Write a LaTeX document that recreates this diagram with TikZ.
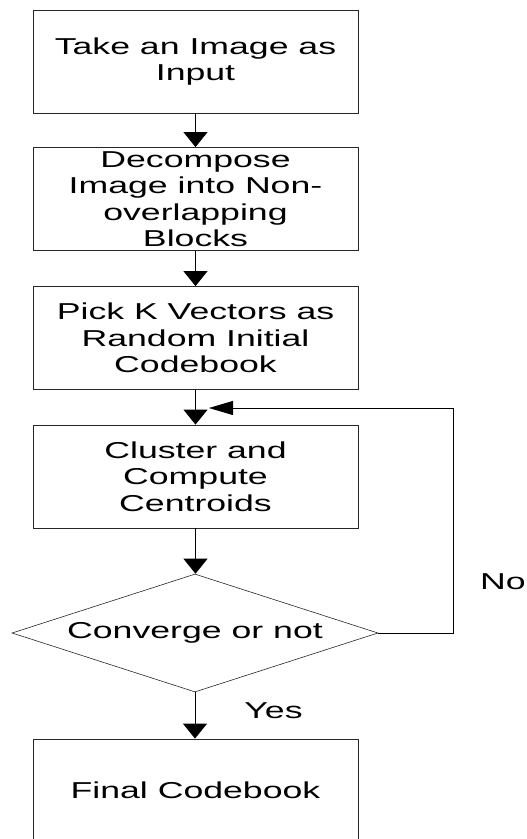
\documentclass[tikz,border=0pt]{standalone}
\usepackage{fontspec}
\setmainfont{Liberation Sans}[FakeStretch=1.55]
\usetikzlibrary{arrows.meta,shapes.geometric}
\begin{document}
\begin{tikzpicture}[x=1pt,y=-1pt,
  txt/.style={font=\fontsize{23}{26.5}\selectfont},
  box/.style={txt, draw=black!85, line width=0.8pt, minimum width=325pt, minimum height=103pt, inner sep=0pt, align=center},
  dec/.style={txt, draw=black!85, line width=0.6pt, shape=diamond, aspect=3.1, minimum width=366pt, minimum height=118pt, inner sep=0pt},
  lbl/.style={txt, inner sep=0pt},
  varr/.style={draw=black, line width=0.8pt, -{Triangle[width=24pt,length=15pt]}},
  harr/.style={draw=black, line width=0.8pt, -{Triangle[width=14pt,length=24pt]}}
]
\useasboundingbox (0,0) rectangle (527,839);
\node[box] (b1) at (195.5,61.5) {Take an Image as\\Input};
\node[box] (b2) at (195.5,199) {Decompose\\Image into Non-\\overlapping\\Blocks};
\node[box] (b3) at (195.5,338) {Pick K Vectors as\\Random Initial\\Codebook};
\node[box] (b4) at (195.5,476.5) {Cluster and\\Compute\\Centroids};
\node[dec] (dia) at (195,633) {Converge or not};
\node[box] (b5) at (195.5,790.5) {Final Codebook};
\node[lbl] (no) at (503,582) {No};
\node[lbl] (yes) at (273.5,711) {Yes};
\coordinate (fbB) at (453,408);
\coordinate (fbEnd) at (209,408);
\draw[varr] (b1.south) -- (b2.north);
\draw[varr] (b2.south) -- (b3.north);
\draw[varr] (b3.south) -- (b4.north);
\draw[varr] (b4.south) -- (b4.south |- dia.north);
\draw[varr] (dia.south) -- (dia.south |- b5.north);
\draw[harr] (dia.east) -| (fbB) -- (fbEnd);
\end{tikzpicture}
\end{document}
